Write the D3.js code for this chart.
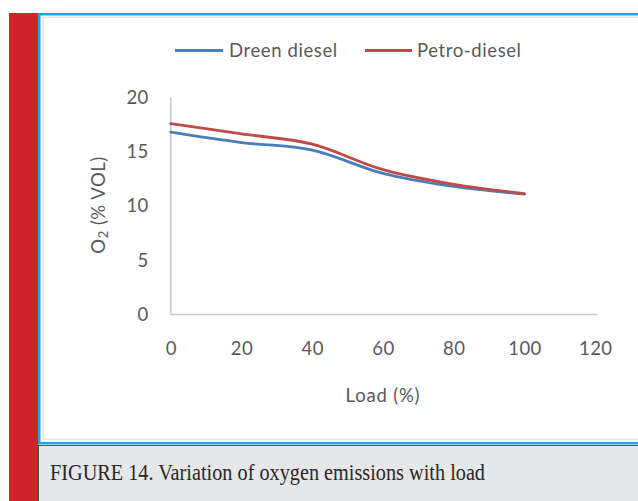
<!DOCTYPE html>
<html>
<head>
<meta charset="utf-8">
<script src="https://cdn.jsdelivr.net/npm/d3@7"></script>
<style>
  html, body { margin: 0; padding: 0; background: #ffffff; }
  svg { display: block; }
</style>
</head>
<body>
<svg id="chart" width="638" height="501"></svg>
<script>
// Engine load (%) at each measurement
const loads = [0, 20, 40, 60, 80, 100];
// O2 emissions (% vol) for each fuel
const dreenDiesel = [16.8, 15.85, 15.15, 13.0, 11.8, 11.1];
const petroDiesel = [17.6, 16.65, 15.7, 13.35, 12.0, 11.15];
const seriesNames = ["Dreen diesel", "Petro-diesel"];
const seriesColors = ["#4a7ebb", "#be4b48"];
const xTicks = [0, 20, 40, 60, 80, 100, 120];
const yTicks = [0, 5, 10, 15, 20];
const captionText = "FIGURE 14. Variation of oxygen emissions with load";

const svg = d3.select("#chart");
const W = 638, H = 501;

// Page frame: red side band, blue figure border, grey caption strip
svg.append("rect").attr("x", 9).attr("y", 13).attr("width", 29.5).attr("height", H - 13).attr("fill", "#d2232a");
svg.append("rect").attr("x", 38.5).attr("y", 445).attr("width", W - 38.5).attr("height", H - 445).attr("fill", "#e6e7e8");
svg.append("line").attr("x1", 38.5).attr("x2", W).attr("y1", 445.5).attr("y2", 445.5).attr("stroke", "#5a5a5a").attr("stroke-width", 1);
svg.append("line").attr("x1", 38.5).attr("x2", 38.5).attr("y1", 445).attr("y2", H).attr("stroke", "#4a4a4a").attr("stroke-width", 1);
// blue border
svg.append("path")
  .attr("d", `M${W},14.2 H39.2 V443.3 H${W}`)
  .attr("fill", "none").attr("stroke", "#12aae6").attr("stroke-width", 2.6);
// thin grey inner border of the chart object
svg.append("path")
  .attr("d", `M${W},17.2 H43.2 V439.2 H${W}`)
  .attr("fill", "none").attr("stroke", "#d9d9d9").attr("stroke-width", 1);

const x = d3.scaleLinear().domain([0, 120]).range([170.7, 595.2]);
const y = d3.scaleLinear().domain([0, 20]).range([314.5, 97.5]);

const font = "Lato, 'Open Sans', sans-serif";
const textColor = "#595959";

// Axes (no tick marks, light grey domain lines)
const xAxis = svg.append("g").attr("transform", `translate(0,${y(0)})`)
  .call(d3.axisBottom(x).tickValues(xTicks).tickSize(0).tickFormat(d3.format("d")));
xAxis.select(".domain").attr("stroke", "#c8c8c8").attr("stroke-width", 1.6).attr("d", `M${x(0)},0H${x(120) + 2}`);
xAxis.selectAll("text").attr("y", 40.5).attr("dy", 0)
  .attr("font-family", font).attr("font-size", 18.5).attr("fill", textColor).attr("letter-spacing", 0.4);

const yAxis = svg.append("g").attr("transform", `translate(${x(0)},0)`)
  .call(d3.axisLeft(y).tickValues(yTicks).tickSize(0).tickFormat(d3.format("d")));
yAxis.select(".domain").attr("stroke", "#c8c8c8").attr("stroke-width", 1.6).attr("d", `M0,${y(20)}V${y(0)}`);
yAxis.selectAll("text").attr("x", -22)
  .attr("font-family", font).attr("font-size", 18.5).attr("fill", textColor).attr("letter-spacing", 0.4);

// Smoothed series lines
const line = d3.line()
  .x((d, i) => x(loads[i]))
  .y(d => y(d))
  .curve(d3.curveCatmullRom.alpha(0.5));

[dreenDiesel, petroDiesel].forEach((vals, k) => {
  svg.append("path")
    .datum(vals)
    .attr("d", line)
    .attr("fill", "none")
    .attr("stroke", seriesColors[k])
    .attr("stroke-width", 2.8)
    .attr("stroke-linecap", "round");
});

// Legend
const legendItems = [
  { x1: 175, x2: 223, tx: 229 },
  { x1: 365, x2: 412, tx: 417 }
];
legendItems.forEach((it, k) => {
  svg.append("line").attr("x1", it.x1).attr("x2", it.x2).attr("y1", 50.5).attr("y2", 50.5)
    .attr("stroke", seriesColors[k]).attr("stroke-width", 3);
  svg.append("text").attr("x", it.tx).attr("y", 56.7)
    .attr("font-family", font).attr("font-size", 18.5).attr("fill", textColor)
    .attr("letter-spacing", 0.6)
    .text(seriesNames[k]);
});

// Axis titles
svg.append("text")
  .attr("x", x(60)).attr("y", 402)
  .attr("text-anchor", "middle")
  .attr("font-family", font).attr("font-size", 18.5).attr("fill", textColor)
  .attr("letter-spacing", 0.8)
  .text("Load (%)");

const yTitle = svg.append("text")
  .attr("transform", "translate(105,205) rotate(-90)")
  .attr("text-anchor", "middle")
  .attr("font-family", font).attr("font-size", 18.5).attr("fill", textColor)
  .attr("letter-spacing", 0.5);
yTitle.append("tspan").text("O");
yTitle.append("tspan").attr("font-size", 13).attr("dy", 3).text("2");
yTitle.append("tspan").attr("dy", -3).text(" (% VOL)");

// Caption
svg.append("text")
  .attr("x", 50).attr("y", 479.5)
  .attr("font-family", "'Liberation Serif', 'DejaVu Serif', serif")
  .attr("font-size", 23.5).attr("fill", "#2a2627")
  .attr("textLength", 435).attr("lengthAdjust", "spacingAndGlyphs")
  .text(captionText);
</script>
</body>
</html>
